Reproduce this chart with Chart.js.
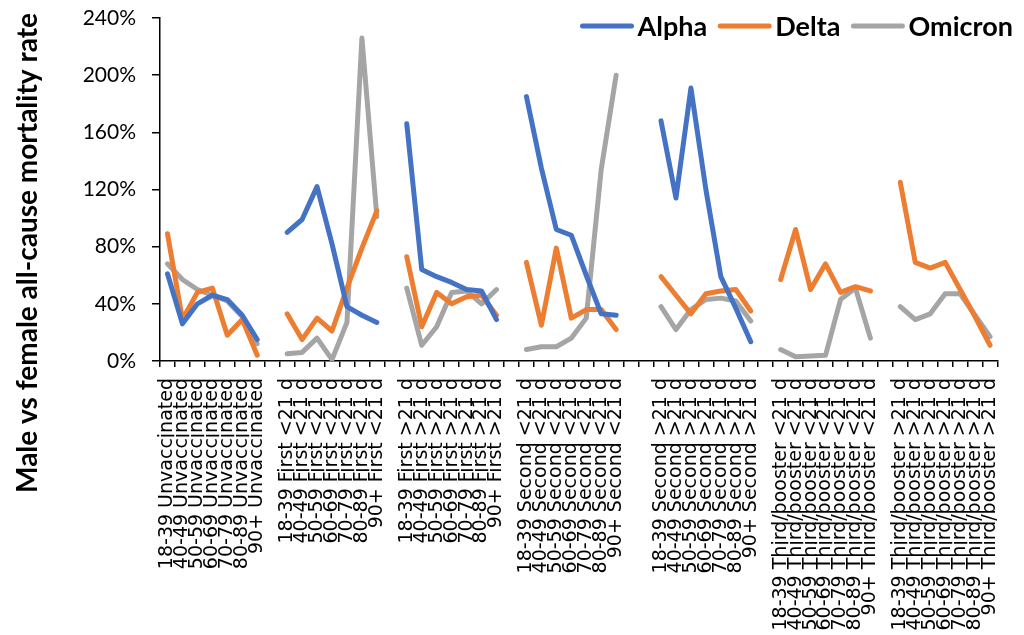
<!DOCTYPE html>
<html>
<head>
<meta charset="utf-8">
<script src="https://cdn.jsdelivr.net/npm/chart.js@4.4.1/dist/chart.umd.min.js"></script>
<style>
  html, body { margin: 0; padding: 0; background: #fff; }
  #wrap { width: 1024px; height: 635px; position: relative; }
</style>
</head>
<body>
<div id="wrap"><canvas id="chart" width="1024" height="635"></canvas></div>
<script>
// Age bands and vaccination status groups along the category axis
const ageBands = ['18-39', '40-49', '50-59', '60-69', '70-79', '80-89', '90+'];
const doseGroups = ['Unvaccinated', 'First <21 d', 'First >21 d', 'Second <21 d',
                    'Second >21 d', 'Third/booster <21 d', 'Third/booster >21 d'];
// empty category slots after each group
const gapsAfter = [1, 1, 1, 2, 1, 1, 0];

// Male vs female all-cause mortality rate (%), one row per dose group
const alpha = [
   61,  26,  40,  46,  43,  32,  15,
   90,  99, 122,  82,  38,  32,  27,
  166,  64,  59,  55,  50,  49,  29,
  185, 135,  92,  88,  60,  33,  32,
  168, 114, 191, 120,  59,  37,  13.5,
  null, null, null, null, null, null, null,
  null, null, null, null, null, null, null
];
const delta = [
   89,  29,  48,  51,  18,  29,   4,
   33,  15,  30,  21,  51,  79, 105,
   73,  24,  48,  40,  45,  46,  32,
   69,  25,  79,  30,  36,  36,  22,
   59,  46,  33,  47,  49,  50,  35,
   57,  92,  50,  68,  48,  52,  49,
  125,  69,  65,  69,  50,  31,  11
];
const omicron = [
   68,  57,  50,  46,  42,  31,  12,
    5,   6,  16,   1,  27, 226, 101,
   51,  11,  24,  48,  49,  40,  50,
    8,  10,  10,  16,  30, 134, 200,
   38,  22,  36,  43,  44,  42,  28,
    8,   3, 3.5,   4,  43,  51,  16,
   38,  29,  33,  47,  47,  32,  17
];

const yTicks = { min: 0, max: 240, step: 40 };
const yTitle = 'Male vs female all-cause mortality rate';

// Build the category labels with blank slots between groups
const xLabels = [];
doseGroups.forEach((g, gi) => {
  ageBands.forEach(a => xLabels.push(a + ' ' + g));
  for (let k = 0; k < gapsAfter[gi]; k++) xLabels.push('');
});

// Insert null values at the blank slots so the lines break there
function spread(values) {
  const out = [];
  let p = 0;
  doseGroups.forEach((g, gi) => {
    for (let i = 0; i < ageBands.length; i++) out.push(values[p++]);
    for (let k = 0; k < gapsAfter[gi]; k++) out.push(null);
  });
  return out;
}

function lineSeries(label, values, color) {
  return {
    label,
    data: spread(values),
    borderColor: color,
    backgroundColor: color,
    borderWidth: 5,
    borderCapStyle: 'round',
    borderJoinStyle: 'round',
    pointRadius: 0,
    pointHoverRadius: 0,
    tension: 0,
    spanGaps: false
  };
}

// Rotated axis title, centred on the plot plus its category labels
const yTitlePlugin = {
  id: 'yTitle',
  afterDraw(chart) {
    const ctx = chart.ctx;
    ctx.save();
    ctx.translate(28, 253);
    ctx.rotate(-Math.PI / 2);
    ctx.font = 'bold 28px Lato';
    ctx.fillStyle = '#000';
    ctx.textAlign = 'center';
    ctx.textBaseline = 'middle';
    ctx.fillText(yTitle, 0, 0);
    ctx.restore();
  }
};

// Horizontal legend in the top-right corner, overlapping the plot
const legendPlugin = {
  id: 'topLegend',
  afterDraw(chart) {
    const ctx = chart.ctx;
    const y = 26;
    let x = 582.5;
    ctx.save();
    ctx.font = 'bold 27px Lato';
    ctx.textBaseline = 'middle';
    ctx.textAlign = 'left';
    chart.data.datasets.forEach(ds => {
      ctx.strokeStyle = ds.borderColor;
      ctx.lineWidth = 5;
      ctx.lineCap = 'round';
      ctx.beginPath();
      ctx.moveTo(x, y);
      ctx.lineTo(x + 49, y);
      ctx.stroke();
      x += 49 + 6;
      ctx.fillStyle = '#000';
      ctx.fillText(ds.label, x, y + 1);
      x += ctx.measureText(ds.label).width + 13;
    });
    ctx.restore();
  }
};

new Chart(document.getElementById('chart'), {
  type: 'line',
  data: {
    labels: xLabels,
    datasets: [
      lineSeries('Alpha', alpha, '#4472C4'),
      lineSeries('Delta', delta, '#ED7D31'),
      lineSeries('Omicron', omicron, '#A5A5A5')
    ]
  },
  options: {
    responsive: false,
    animation: false,
    layout: { padding: { top: 18, right: 18, left: 0, bottom: 0 } },
    plugins: {
      tooltip: { enabled: false },
      legend: { display: false }
    },
    scales: {
      x: {
        type: 'category',
        offset: true,
        grid: { offset: true, drawOnChartArea: false, drawTicks: true, tickLength: 6, color: '#000', lineWidth: 1.5 },
        border: { color: '#000', width: 1.5 },
        ticks: {
          autoSkip: false, minRotation: 90, maxRotation: 90, padding: 11,
          color: '#000', font: { family: 'DejaVu Sans', size: 19 }
        },
        afterFit(scale) { scale.height = 274; }
      },
      y: {
        min: yTicks.min,
        max: yTicks.max,
        grid: { drawOnChartArea: false, drawTicks: true, tickLength: 8, color: '#000', lineWidth: 1.5 },
        border: { color: '#000', width: 1.5 },
        ticks: {
          stepSize: yTicks.step, padding: 16, color: '#000',
          font: { family: 'Lato', size: 21 },
          callback: v => v + '%'
        },
        afterFit(scale) {
          scale.width = 160;
          scale.paddingTop = 8;
          scale.paddingBottom = 8;
        }
      }
    }
  },
  plugins: [yTitlePlugin, legendPlugin]
});
</script>
</body>
</html>
